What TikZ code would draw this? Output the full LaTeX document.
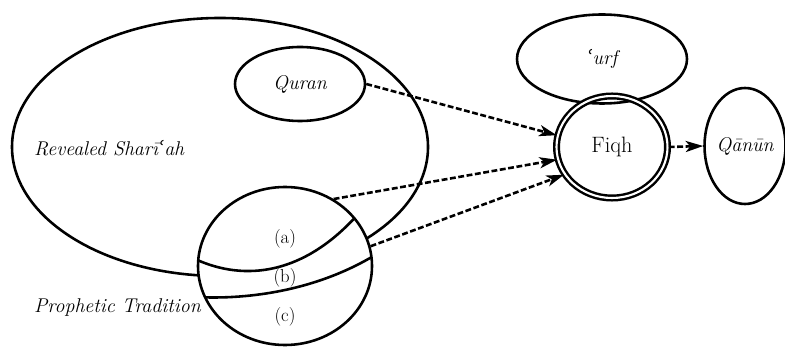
\documentclass[tikz,border=0pt]{standalone}
\usepackage{fontspec}
\newfontfamily\ringfont{DejaVu Serif}
\usetikzlibrary{arrows.meta,positioning,shapes.geometric}
\newcommand{\ayn}{{\ringfont ʿ}}
\tikzset{
  source node/.style={ellipse,draw=black,line width=2.2pt,inner sep=0pt,align=center,font=\fontsize{17}{20}\selectfont\itshape},
  fiqh node/.style={ellipse,draw=black,line width=2.1pt,double=white,double distance=1.8pt,inner sep=0pt,font=\fontsize{19}{22}\selectfont},
  part line/.style={line width=2.2pt},
  part label/.style={font=\fontsize{16}{19}\selectfont},
  side label/.style={anchor=west,font=\fontsize{17}{20}\selectfont\itshape},
  source arrow/.style={-{Stealth[length=15pt,width=9.5pt,inset=4pt]},line width=2.2pt,dash pattern=on 5pt off 2.2pt}
}
\begin{document}
\begin{tikzpicture}[x=0.3mm,y=-0.3mm]
  \useasboundingbox (0,0) rectangle (785,347);
  % sources of the shari'ah
  \node[source node,minimum width=124.8mm,minimum height=77.4mm] (shariah) at (220,147) {};
  \node[source node,fill=white,minimum width=52.2mm,minimum height=47.4mm] (tradition) at (285,266) {};
  \begin{scope}
    \clip (tradition.center) ellipse [x radius=26.1mm,y radius=23.7mm];
    \draw[part line] (195,259) .. controls (245,282) and (305,275) .. (360,212);
    \draw[part line] (195,297) .. controls (250,300) and (320,290) .. (380,252);
  \end{scope}
  \node[part label] (parta) at (285,239) {(a)};
  \node[part label] (partb) at (285,278) {(b)};
  \node[part label] (partc) at (285,317) {(c)};
  \node[side label] (revealed) at (30,148) {Revealed Sharī\ayn ah};
  \node[side label] (prophetic) at (30,308) {Prophetic Tradition};
  \node[source node,minimum width=39mm,minimum height=22.2mm] (quran) at (300,84) {Quran};
  % fiqh and its neighbours
  \node[source node,minimum width=51mm,minimum height=26.7mm] (urf) at (602,59) {\ayn urf};
  \node[fiqh node,minimum width=33.3mm,minimum height=30.6mm] (fiqh) at (612,147) {Fiqh};
  \node[source node,minimum width=24mm,minimum height=34.8mm] (qanun) at (745,146) {Qānūn};
  \draw[source arrow] (quran.east) -- (fiqh.168);
  \draw[source arrow] (tradition.54) -- (fiqh.193);
  \draw[source arrow] (tradition.13) -- (fiqh.210);
  \draw[source arrow] (fiqh.east) -- (qanun.west);
\end{tikzpicture}
\end{document}
